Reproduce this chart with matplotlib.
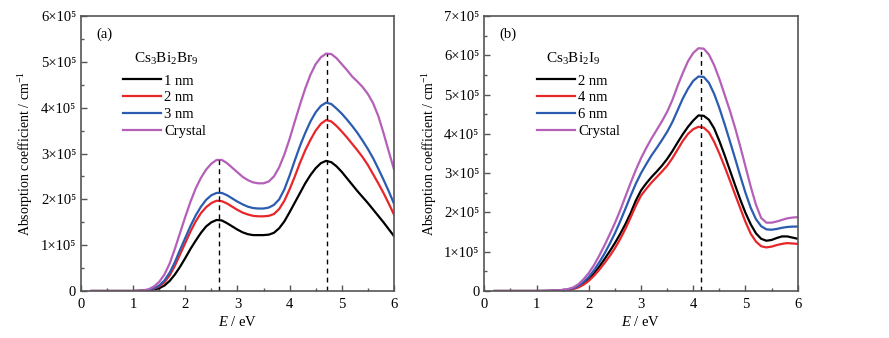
import numpy as np
import matplotlib
matplotlib.use('Agg')
import matplotlib.pyplot as plt
from matplotlib.ticker import MultipleLocator, FuncFormatter

plt.rcParams['font.family'] = ['Liberation Serif', 'DejaVu Serif']
plt.rcParams['mathtext.fontset'] = 'custom'
plt.rcParams['mathtext.rm'] = 'Liberation Serif'
plt.rcParams['mathtext.it'] = 'Liberation Serif:italic'
plt.rcParams['font.size'] = 10.5

# panel (a): Cs3Bi2Br9, absorption in 1e5 cm^-1
e_a = [0.2, 0.5, 1.0, 1.1, 1.2, 1.3, 1.4, 1.5, 1.6, 1.7, 1.8, 1.9, 2.0, 2.1, 2.2, 2.3,
       2.4, 2.5, 2.6, 2.7, 2.8, 2.9, 3.0, 3.1, 3.2, 3.3, 3.4, 3.5, 3.6, 3.7, 3.8, 3.9,
       4.0, 4.1, 4.2, 4.3, 4.4, 4.5, 4.6, 4.7, 4.8, 4.9, 5.0, 5.1, 5.2, 5.3, 5.4, 5.5,
       5.6, 5.7, 5.8, 5.9, 6.0]
a_1nm = [0, 0, 0, 0.002, 0.005, 0.012, 0.03, 0.06, 0.12, 0.22, 0.36, 0.53, 0.72, 0.92,
         1.1, 1.27, 1.41, 1.5, 1.55, 1.54, 1.48, 1.41, 1.34, 1.28, 1.24, 1.22, 1.22, 1.22,
         1.23, 1.27, 1.37, 1.52, 1.72, 1.93, 2.14, 2.35, 2.53, 2.68, 2.79, 2.84, 2.81,
         2.72, 2.6, 2.46, 2.32, 2.18, 2.05, 1.92, 1.78, 1.64, 1.5, 1.35, 1.2]
a_2nm = [0, 0, 0, 0.003, 0.008, 0.02, 0.05, 0.1, 0.19, 0.34, 0.55, 0.8, 1.05, 1.3,
         1.52, 1.7, 1.83, 1.92, 1.97, 1.96, 1.91, 1.84, 1.77, 1.71, 1.67, 1.64, 1.63, 1.63,
         1.64, 1.68, 1.79, 1.97, 2.22, 2.5, 2.8, 3.07, 3.3, 3.5, 3.65, 3.73, 3.7, 3.6,
         3.48, 3.35, 3.21, 3.07, 2.92, 2.75, 2.55, 2.35, 2.14, 1.91, 1.67]
a_3nm = [0, 0, 0, 0.003, 0.01, 0.025, 0.06, 0.12, 0.23, 0.4, 0.63, 0.9, 1.16, 1.42,
         1.65, 1.84, 1.99, 2.09, 2.14, 2.14, 2.09, 2.02, 1.95, 1.89, 1.84, 1.81, 1.8, 1.8,
         1.82, 1.88, 2.0, 2.22, 2.52, 2.85, 3.17, 3.45, 3.7, 3.9, 4.04, 4.11, 4.08, 3.98,
         3.87, 3.74, 3.6, 3.45, 3.28, 3.1, 2.9, 2.67, 2.43, 2.18, 1.91]
a_cry = [0, 0, 0, 0.005, 0.015, 0.04, 0.1, 0.2, 0.36, 0.6, 0.92, 1.27, 1.62, 1.95,
         2.24, 2.47, 2.65, 2.78, 2.86, 2.86, 2.79, 2.69, 2.59, 2.49, 2.42, 2.37, 2.35, 2.35,
         2.39, 2.5, 2.7, 2.98, 3.32, 3.7, 4.07, 4.42, 4.72, 4.95, 5.1, 5.18, 5.17, 5.08,
         4.95, 4.82, 4.68, 4.57, 4.45, 4.3, 4.1, 3.82, 3.45, 3.05, 2.66]
a_labels = ['1 nm', '2 nm', '3 nm', 'Crystal']
a_peaks = [2.65, 4.72]

# panel (b): Cs3Bi2I9
e_b = [0.2, 0.5, 1.0, 1.2, 1.4, 1.5, 1.6, 1.7, 1.8, 1.9, 2.0, 2.1, 2.2, 2.3, 2.4, 2.5,
       2.6, 2.7, 2.8, 2.9, 3.0, 3.1, 3.2, 3.3, 3.4, 3.5, 3.6, 3.7, 3.8, 3.9, 4.0, 4.1,
       4.2, 4.3, 4.4, 4.5, 4.6, 4.7, 4.8, 4.9, 5.0, 5.1, 5.2, 5.3, 5.4, 5.5, 5.6, 5.7,
       5.8, 5.9, 6.0]
b_2nm = [0, 0, 0, 0.002, 0.008, 0.015, 0.03, 0.06, 0.11, 0.19, 0.3, 0.45, 0.62, 0.81,
         1.01, 1.22, 1.45, 1.7, 1.98, 2.3, 2.56, 2.74, 2.9, 3.04, 3.19, 3.36, 3.56, 3.78,
         3.99, 4.18, 4.34, 4.47, 4.46, 4.36, 4.14, 3.82, 3.46, 3.08, 2.7, 2.33, 1.99, 1.7,
         1.47, 1.33, 1.28, 1.3, 1.35, 1.39, 1.39, 1.36, 1.33]
b_4nm = [0, 0, 0, 0.002, 0.006, 0.012, 0.025, 0.05, 0.09, 0.16, 0.26, 0.39, 0.54, 0.71,
         0.89, 1.09, 1.32, 1.58, 1.87, 2.17, 2.43, 2.6, 2.76, 2.9, 3.04, 3.19, 3.38, 3.6,
         3.82, 4.0, 4.12, 4.18, 4.16, 4.04, 3.8, 3.5, 3.17, 2.82, 2.46, 2.11, 1.76, 1.46,
         1.26, 1.14, 1.11, 1.13, 1.17, 1.2, 1.22, 1.21, 1.2]
b_6nm = [0, 0, 0, 0.003, 0.01, 0.02, 0.04, 0.07, 0.13, 0.23, 0.36, 0.53, 0.73, 0.95,
         1.2, 1.47, 1.77, 2.09, 2.42, 2.73, 3.0, 3.23, 3.45, 3.64, 3.84, 4.05, 4.3, 4.6,
         4.9, 5.15, 5.35, 5.46, 5.45, 5.3, 5.02, 4.66, 4.25, 3.82, 3.38, 2.93, 2.5, 2.12,
         1.83, 1.65, 1.57, 1.56, 1.58, 1.61, 1.63, 1.64, 1.64]
b_cry = [0, 0, 0, 0.004, 0.015, 0.03, 0.05, 0.09, 0.17, 0.3, 0.46, 0.66, 0.9, 1.16,
         1.44, 1.73, 2.05, 2.4, 2.75, 3.08, 3.38, 3.64, 3.88, 4.1, 4.32, 4.56, 4.86, 5.22,
         5.55, 5.85, 6.06, 6.18, 6.17, 6.02, 5.75, 5.4, 5.0, 4.6, 4.16, 3.68, 3.17, 2.66,
         2.2, 1.86, 1.74, 1.74, 1.77, 1.81, 1.85, 1.87, 1.88]
b_labels = ['2 nm', '4 nm', '6 nm', 'Crystal']
b_peaks = [4.14]

colors = ['#000000', '#e8262a', '#2b5caf', '#b460b8']

fig = plt.figure(figsize=(8.89, 3.38), dpi=100)
ax1 = fig.add_axes([0.0911, 0.139, 0.352, 0.8136])
ax2 = fig.add_axes([0.5448, 0.139, 0.3525, 0.8136])


def sci(v, pos):
    n = int(round(v / 1e5))
    if n == 0:
        return '0'
    return '%d\u00d710\u2075' % n


def panel(ax, e, series, labels, peaks, ymax, tag, title, tx, lx):
    for s, lab, c in zip(series, labels, colors):
        ax.plot(e, np.array(s) * 1e5, color=c, lw=1.6, label=lab,
                solid_joinstyle='round')
    top = np.array(series[-1]) * 1e5
    for p in peaks:
        ax.plot([p, p], [0, np.interp(p, e, top)], 'k--', lw=1.0, dashes=(3.5, 3))
    ax.set_xlim(0, 6)
    ax.set_ylim(0, ymax * 1e5)
    ax.xaxis.set_major_locator(MultipleLocator(1))
    ax.xaxis.set_minor_locator(MultipleLocator(0.5))
    ax.yaxis.set_major_locator(MultipleLocator(1e5))
    ax.yaxis.set_minor_locator(MultipleLocator(0.5e5))
    ax.yaxis.set_major_formatter(FuncFormatter(sci))
    ax.tick_params(which='both', direction='in', top=False, right=False,
                   color='#555555', labelsize=10.5)
    ax.tick_params(axis='x', pad=5)
    ax.tick_params(which='major', length=4.5, width=1.0)
    ax.tick_params(which='minor', length=2.5, width=1.0)
    for sp in ax.spines.values():
        sp.set_color('#555555')
        sp.set_linewidth(1.2)
    ax.set_xlabel(r'$E$ / eV', fontsize=10.5, labelpad=3)
    ax.set_ylabel(r'Absorption coefficient / cm$^{-1}$', fontsize=10, labelpad=4)
    ax.text(0.048, 0.935, tag, transform=ax.transAxes, fontsize=10.5, va='center')
    ax.text(tx, 0.845, title, transform=ax.transAxes, fontsize=11,
            ha='center', va='center')
    ax.legend(loc='upper left', bbox_to_anchor=(lx, 0.788), frameon=False,
              fontsize=10.5, handlelength=2.6, handletextpad=0.25,
              labelspacing=0.24, borderpad=0, borderaxespad=0)


panel(ax1, e_a, [a_1nm, a_2nm, a_3nm, a_cry], a_labels, a_peaks, 6, '(a)',
      r'Cs$_3$Bi$_2$Br$_9$', 0.272, 0.134)
panel(ax2, e_b, [b_2nm, b_4nm, b_6nm, b_cry], b_labels, b_peaks, 7, '(b)',
      r'Cs$_3$Bi$_2$I$_9$', 0.284, 0.167)

fig.savefig('out.png', dpi=100)
